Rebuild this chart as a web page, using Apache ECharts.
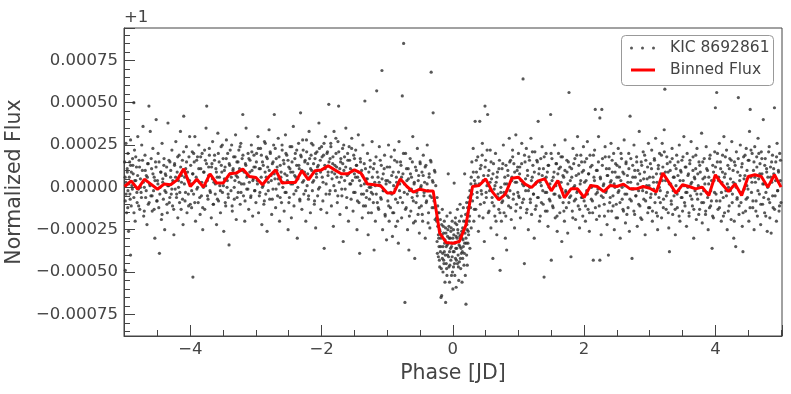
<!DOCTYPE html>
<html><head><meta charset="utf-8">
<script src="https://cdn.jsdelivr.net/npm/echarts@6/dist/echarts.min.js"></script>
<style>html,body{margin:0;padding:0;background:#fff}#c{width:791px;height:394px}</style>
</head><body><div id="c"></div>
<script>
// Binned flux (phase in days, flux-1 in units of 1e-6)
const binPhase = [-5.0,-4.9,-4.8,-4.7,-4.6,-4.5,-4.4,-4.3,-4.2,-4.1,-4.0,-3.9,-3.8,-3.7,-3.6,-3.5,-3.4,-3.3,-3.2,-3.1,-3.0,-2.9,-2.8,-2.7,-2.6,-2.5,-2.4,-2.3,-2.2,-2.1,-2.0,-1.9,-1.8,-1.7,-1.6,-1.5,-1.4,-1.3,-1.2,-1.1,-1.0,-0.9,-0.8,-0.7,-0.6,-0.5,-0.4,-0.3,-0.2,-0.1,0.0,0.1,0.2,0.3,0.4,0.5,0.6,0.7,0.8,0.9,1.0,1.1,1.2,1.3,1.4,1.5,1.6,1.7,1.8,1.9,2.0,2.1,2.2,2.3,2.4,2.5,2.6,2.7,2.8,2.9,3.0,3.1,3.2,3.3,3.4,3.5,3.6,3.7,3.8,3.9,4.0,4.1,4.2,4.3,4.4,4.5,4.6,4.7,4.8,4.9,5.0];
const binFlux = [5,38,-11,48,19,-11,19,15,44,109,5,48,1,80,25,25,80,84,108,64,58,15,64,103,25,28,28,98,44,98,103,127,103,80,80,103,84,19,15,9,-34,-34,50,5,-28,-11,-21,-21,-271,-326,-330,-320,-222,5,11,50,-25,-74,-40,54,60,19,-1,38,50,-21,40,-62,-9,-9,-60,11,5,-25,11,5,19,-9,-9,5,-5,-28,84,25,-34,15,5,-9,1,-48,74,19,-25,19,-48,64,74,64,1,74,1];

// KIC 8692861 points: [phase in 0.01 d, flux-1 in 1e-6] -- wide scatter
const kicPoints = [
[-500,150],[-499,-80],[-499,-490],[-498,260],[-498,30],[-497,-150],[-496,90],[-495,-20],[-495,200],[-494,-260],[-493,60],[-492,-40],[-491,130],[-491,280],[-490,-110],[-489,10],[-491,-400],[-488,170],[-487,80],[-486,-60],[-486,500],[-485,220],[-484,-200],[-483,40],[-482,120],[-481,-90],[-480,300],[-479,-10],[-478,160],[-477,-130],[-476,50],[-475,-30],[-474,250],[-472,360],[-473,100],[-471,-170],[-470,0],[-469,190],[-468,-60],[-467,70],[-466,-220],[-465,140],[-463,480],[-464,-100],[-462,20],[-461,330],[-460,-50],[-459,110],[-458,-140],[-457,230],[-456,-20],[-455,60],[-454,-300],[-453,150],[-452,400],[-451,-80],[-450,40],[-449,200],[-448,-120],[-447,-390],[-446,0],[-445,90],[-444,-190],[-443,260],[-442,30],[-441,-70],[-440,170],[-439,-250],[-438,80],[-437,-30],[-436,120],[-435,-150],[-434,380],[-433,10],[-432,-90],[-431,150],[-430,60],[-429,-40],[-428,220],[-427,-110],[-426,30],[-425,-280],[-424,130],[-423,-10],[-422,270],[-421,-60],[-420,90],[-419,-180],[-418,40],[-417,190],[-416,-30],[-415,330],[-414,-130],[-413,70],[-412,160],[-411,-220],[-410,420],[-409,20],[-408,-80],[-407,110],[-406,240],[-405,-150],[-404,50],[-403,-40],[-402,180],[-401,300],[-400,-100],
[-399,20],[-398,-120],[-397,210],[-396,-530],[-396,80],[-395,-40],[-394,150],[-393,300],[-392,-200],[-391,60],[-390,-10],[-389,180],[-388,-90],[-387,250],[-386,30],[-385,-160],[-384,110],[-383,-50],[-382,200],[-381,-250],[-380,0],[-379,90],[-378,-130],[-377,160],[-376,350],[-375,480],[-374,40],[-373,-70],[-372,120],[-371,230],[-370,-20],[-369,70],[-368,-180],[-367,140],[-366,270],[-365,-100],[-364,30],[-363,190],[-362,-40],[-361,110],[-360,-220],[-359,60],[-358,320],[-357,-80],[-356,150],[-355,10],[-354,-150],[-353,240],[-352,90],[-351,-30],[-350,170],[-349,-260],[-348,50],[-347,120],[-346,-110],[-345,280],[-344,0],[-343,200],[-342,-60],[-341,-340],[-340,130],[-339,80],[-338,-20],[-337,250],[-336,-140],[-335,100],[-334,180],[-333,-70],[-332,40],[-331,310],[-330,-190],[-329,150],[-328,60],[-327,-30],[-326,220],[-325,110],[-324,-100],[-323,260],[-322,20],[-321,170],[-320,430],[-319,-50],[-318,90],[-317,-200],[-316,140],[-315,350],[-314,-10],[-313,70],[-312,200],[-311,-130],[-310,30],[-309,160],[-308,-60],[-307,250],[-306,100],[-305,-170],[-304,50],[-303,190],[-302,-20],[-301,120],
[-300,-90],[-299,200],[-298,40],[-297,300],[-296,-150],[-295,110],[-294,-30],[-293,230],[-292,60],[-291,-220],[-290,150],[-289,10],[-288,-100],[-287,270],[-286,90],[-285,-40],[-284,180],[-283,-260],[-282,120],[-281,30],[-280,340],[-279,-70],[-278,200],[-277,70],[-276,-160],[-275,140],[-274,-10],[-273,250],[-272,430],[-271,50],[-270,-120],[-269,170],[-268,100],[-267,-50],[-266,290],[-265,20],[-264,-200],[-263,130],[-262,60],[-261,-90],[-260,220],[-259,0],[-258,160],[-257,-140],[-256,80],[-255,310],[-254,-30],[-253,190],[-252,40],[-251,-250],[-250,120],[-249,-60],[-248,240],[-247,90],[-246,-180],[-245,150],[-244,20],[-243,360],[-242,-110],[-241,70],[-240,200],[-239,-20],[-238,130],[-237,-300],[-236,50],[-235,260],[-234,110],[-233,-80],[-232,440],[-231,180],[-230,-130],[-229,30],[-228,220],[-227,-40],[-226,90],[-225,160],[-224,-200],[-223,280],[-222,10],[-221,140],[-220,-70],[-219,330],[-218,60],[-217,-150],[-216,190],[-215,100],[-214,-20],[-213,250],[-212,40],[-211,-100],[-210,170],[-209,-240],[-208,80],[-207,210],[-206,-50],[-205,130],[-204,380],[-203,0],[-202,160],[-201,-130],
[-200,240],[-199,60],[-198,-80],[-197,190],[-196,-360],[-195,130],[-194,300],[-193,20],[-192,-150],[-191,210],[-190,90],[-189,490],[-188,-40],[-187,170],[-186,260],[-185,-110],[-184,50],[-183,140],[-182,-230],[-181,330],[-180,80],[-179,-20],[-178,200],[-177,120],[-176,-90],[-175,270],[-174,480],[-173,30],[-172,-160],[-171,150],[-170,60],[-169,-50],[-168,230],[-167,-320],[-166,100],[-165,180],[-164,-10],[-163,350],[-162,-120],[-161,70],[-160,160],[-159,-200],[-158,240],[-157,20],[-156,110],[-155,-70],[-154,290],[-153,40],[-152,-140],[-151,190],[-150,80],[-149,-30],[-148,220],[-147,130],[-146,-250],[-145,60],[-144,310],[-143,-90],[-142,-390],[-141,170],[-140,10],[-139,100],[-138,-180],[-137,250],[-136,-40],[-135,140],[-134,510],[-133,-110],[-132,50],[-131,-20],[-130,200],[-129,-280],[-128,90],[-127,-70],[-126,160],[-125,0],[-124,-150],[-123,270],[-122,-40],[-121,110],[-120,-370],[-119,30],[-118,-200],[-117,180],[-116,570],[-115,-90],[-114,60],[-113,-130],[-112,240],[-111,10],[-110,-60],[-109,130],[-108,690],[-107,-250],[-106,80],[-105,-20],[-104,190],[-103,-170],[-102,40],[-101,-310],
[-100,120],[-99,-80],[-98,250],[-97,-200],[-96,30],[-95,-120],[-94,180],[-93,-40],[-92,-290],[-91,90],[-90,-150],[-89,220],[-88,-10],[-87,-230],[-86,60],[-85,150],[-84,-90],[-83,-330],[-82,270],[-81,20],[-80,-60],[-79,130],[-78,-180],[-77,540],[-76,80],[-75,850],[-74,-30],[-73,-680],[-72,200],[-71,-120],[-70,40],[-69,-250],[-68,110],[-67,-370],[-66,-20],[-65,170],[-64,-140],[-63,60],[-62,-60],[-61,300],[-60,-210],[-59,20],[-58,-420],[-57,120],[-56,-90],[-55,-30],[-54,230],[-53,-160],[-52,70],[-51,-270],[-50,150],[-49,0],[-48,-110],[-47,90],[-46,-200],[-45,190],[-44,-50],[-43,30],[-42,-300],[-41,130],[-40,-80],[-39,250],[-38,-20],[-37,-150],[-36,80],[-35,-240],[-34,160],[-33,680],[-32,-60],[-31,40],[-30,440],[-29,-120],[-28,100],[-27,-190],[-26,10],
[-25,-180],[-24,-60],[-24,-320],[-23,-230],[-23,-110],[-22,-410],[-22,-280],[-21,-150],[-21,-350],[-20,-250],[-20,-470],[-19,-190],[-19,-380],[-18,-650],[-18,-300],[-17,-640],[-17,-220],[-16,-420],[-16,-130],[-15,-350],[-15,-500],[-14,-270],[-14,-430],[-13,-200],[-13,-380],[-12,-560],[-12,-310],[-11,-680],[-11,-240],[-10,-450],[-10,-350],[-9,-170],[-9,-520],[-8,-290],[-8,-400],[-7,80],[-7,-330],[-6,-470],[-6,-230],[-5,-380],[-5,-560],[-4,-300],[-4,-150],[-3,-430],[-3,-260],[-2,-520],[-2,-350],[-1,-200],[-1,-410],[0,-600],[0,-300],[1,-470],[1,-250],[2,25],[2,-380],[3,-330],[3,-520],[4,-180],[4,-420],[5,-290],[5,-590],[6,-360],[6,-220],[7,-450],[7,-130],[8,-400],[8,-270],[9,-550],[9,-320],[10,-200],[10,-440],[11,-350],[11,-100],[12,-480],[12,-280],[13,-390],[13,-170],[14,-300],[14,-560],[15,-240],[15,-420],[16,-350],[16,-120],[17,-460],[17,-250],[18,80],[18,-330],[19,-520],[19,-200],[20,-690],[20,-300],[21,-400],[21,-90],[22,-250],[22,-460],[23,-150],[23,-330],[24,-60],[24,-280],[25,-200],[26,-20],[26,-360],[27,-120],[28,60],[28,-240],
[29,150],[30,-80],[31,230],[32,-200],[33,40],[34,390],[35,-130],[36,90],[37,-30],[38,180],[39,-260],[40,20],[41,390],[42,-100],[43,130],[44,-40],[45,260],[46,-180],[47,70],[48,-320],[49,480],[50,160],[51,-60],[52,10],[53,430],[54,-150],[55,100],[56,-20],[57,220],[58,-240],[59,50],[60,-90],[61,-420],[62,140],[63,-10],[64,-170],[65,200],[66,30],[67,-280],[68,90],[69,-60],[70,-130],[71,160],[72,-490],[73,-30],[74,-200],[75,110],[76,-80],[77,250],[78,-150],[79,20],[80,-300],[81,130],[82,-370],[83,-50],[84,70],[85,-110],[86,290],[87,-20],[88,160],[89,-190],[90,60],[91,220],[92,-70],[93,140],[94,-240],[95,30],[96,310],[97,-100],[98,100],[99,-30],
[100,200],[101,-60],[102,120],[103,-180],[104,40],[105,260],[106,-90],[107,640],[108,10],[109,-450],[110,150],[111,-20],[112,230],[113,-130],[114,70],[115,-250],[116,180],[117,0],[118,-70],[119,290],[120,-160],[121,60],[122,130],[123,-40],[124,-300],[125,210],[126,20],[127,-110],[128,160],[129,-60],[130,390],[131,80],[132,-200],[133,30],[134,170],[135,-90],[136,240],[137,-20],[138,110],[139,-530],[140,50],[141,-140],[142,200],[143,-30],[144,90],[145,-230],[146,130],[147,-70],[148,20],[149,430],[150,-430],[151,170],[152,-110],[153,60],[154,-40],[155,250],[156,-180],[157,10],[158,140],[159,-260],[160,80],[161,200],[162,-50],[163,-150],[164,120],[165,30],[166,-320],[167,180],[168,-90],[169,60],[170,-200],[171,280],[172,-20],[173,-120],[174,90],[175,-270],[176,150],[177,560],[178,-60],[179,40],[180,-410],[181,110],[182,-140],[183,230],[184,0],[185,-80],[186,170],[187,-190],[188,70],[189,-30],[190,300],[191,-110],[192,130],[193,-240],[194,20],[195,190],[196,-60],[197,90],[198,-170],[199,240],
[200,-80],[201,150],[202,-200],[203,40],[204,-20],[205,270],[206,-130],[207,80],[208,-260],[209,190],[210,10],[211,-70],[212,130],[213,-150],[214,-430],[215,60],[216,220],[217,460],[218,-40],[219,-190],[220,100],[221,-10],[222,300],[223,-110],[224,410],[224,-430],[225,50],[226,-280],[227,460],[228,170],[229,-60],[230,20],[231,-170],[232,240],[233,-30],[234,110],[235,-220],[236,70],[237,-400],[238,180],[239,-90],[240,30],[241,260],[242,-140],[243,90],[244,-50],[245,200],[246,-250],[247,0],[248,140],[249,-100],[250,60],[251,-180],[252,230],[253,-20],[254,120],[255,-300],[256,40],[257,170],[258,-70],[259,90],[260,-140],[261,280],[262,10],[263,-210],[264,150],[265,-40],[266,70],[267,-120],[268,200],[269,-260],[270,420],[271,30],[272,-80],[273,-420],[274,130],[275,-10],[276,250],[277,-160],[278,60],[279,-50],[280,180],[281,-230],[282,100],[283,-20],[284,330],[285,-110],[286,40],[287,150],[288,-190],[289,0],[290,210],[291,-70],[292,90],[293,-280],[294,160],[295,-30],[296,50],[297,-150],[298,260],[299,10],
[300,-120],[301,140],[302,-40],[303,220],[304,-200],[305,60],[306,-10],[307,170],[308,-90],[309,290],[310,-150],[311,30],[312,-250],[313,110],[314,-60],[315,200],[316,-20],[317,80],[318,-180],[319,260],[320,120],[321,-70],[322,340],[323,580],[324,40],[325,-130],[326,180],[327,-30],[328,90],[329,-240],[330,-380],[331,150],[332,20],[333,-100],[334,230],[335,-160],[336,60],[337,-50],[338,130],[339,-280],[340,10],[341,190],[342,-120],[343,70],[344,-20],[345,250],[346,-200],[347,100],[348,-60],[349,160],[350,-140],[351,40],[352,300],[353,-90],[354,120],[355,-30],[356,-230],[357,200],[358,0],[359,80],[360,-170],[361,140],[362,-50],[363,270],[364,30],[365,-110],[366,180],[367,-300],[368,60],[369,-20],[370,110],[371,-190],[372,230],[373,-70],[374,10],[375,150],[376,-130],[377,90],[378,-40],[379,320],[380,-210],[381,50],[382,-90],[383,170],[384,20],[385,-160],[386,240],[387,-30],[388,100],[389,-250],[390,60],[391,-120],[392,190],[393,-20],[394,-80],[395,-360],[396,130],[397,-180],[398,40],[399,210],
[400,470],[401,-40],[402,560],[403,150],[404,-130],[405,60],[406,260],[407,-80],[408,110],[409,-200],[410,30],[411,190],[412,-60],[413,300],[414,-150],[415,80],[416,-20],[417,220],[418,-250],[419,130],[420,0],[421,-110],[422,170],[423,50],[424,-190],[425,270],[426,-40],[427,100],[428,-300],[429,150],[430,20],[431,-350],[432,210],[433,-70],[434,90],[435,530],[436,-160],[437,40],[438,250],[439,-90],[440,120],[441,-230],[442,-380],[443,180],[444,-10],[445,70],[446,-140],[447,230],[448,10],[449,-60],[450,160],[451,-200],[452,330],[453,460],[454,60],[455,-30],[456,200],[457,-120],[458,100],[459,-250],[460,240],[461,30],[462,-80],[463,180],[464,-170],[465,290],[466,50],[467,-40],[468,140],[469,-220],[470,210],[471,80],[472,-100],[473,400],[474,20],[475,-150],[476,170],[477,-30],[478,110],[479,-260],[480,60],[481,-70],[482,240],[483,-180],[484,120],[485,-270],[486,30],[487,190],[488,-120],[489,80],[490,470],[491,-50],[492,150],[493,-200],[494,260],[495,-20],[496,100],[497,-140],[498,200],[499,40],[500,-90]
];

// KIC 8692861 points, dense core band: [phase in 0.01 d, flux-1 in 1e-6]
const kicPointsCore = [
[-499.2,60],[-497.8,-40],[-496.1,110],[-495.3,-120],[-493.7,20],[-492.4,150],[-491.6,-70],[-489.9,90],[-488.3,-10],[-487.5,130],[-485.8,-150],[-484.6,40],[-483.1,180],[-481.4,-30],[-480.2,70],[-478.7,-110],[-477.3,120],[-475.9,0],[-474.4,-60],[-472.8,160],[-471.5,30],[-470.1,-140],[-468.6,100],[-467.2,-20],[-465.4,60],[-464.1,140],[-462.7,-90],[-461.3,10],[-459.6,170],[-458.2,-50],[-456.9,80],[-455.1,-130],[-453.8,40],[-452.2,120],[-450.7,-80],[-449.3,20],[-447.6,150],[-446.4,-40],[-444.8,90],[-443.1,-160],[-441.9,50],[-440.3,130],[-438.7,-20],[-437.2,70],[-435.6,-100],[-434.3,10],[-432.5,160],[-431.2,-60],[-429.8,100],[-428.1,-10],[-426.7,40],[-425.3,-130],[-423.9,140],[-422.4,60],[-420.8,-40],[-419.2,180],[-417.9,0],[-416.3,-90],[-414.7,120],[-413.4,30],[-411.8,-70],[-410.2,210],[-408.6,60],[-407.3,-30],[-405.7,150],[-404.2,90],[-402.6,-110],[-401.1,40],
[-399.4,130],[-397.9,-20],[-396.5,80],[-394.8,200],[-393.2,-90],[-391.7,40],[-390.3,160],[-388.8,0],[-387.1,110],[-385.6,-60],[-384.2,180],[-382.5,30],[-381.1,-120],[-379.7,90],[-378.2,220],[-376.6,10],[-375.3,140],[-373.8,-50],[-372.2,70],[-370.9,190],[-369.3,-30],[-367.6,120],[-366.2,50],[-364.7,-100],[-363.1,160],[-361.8,20],[-360.2,90],[-358.7,-70],[-357.3,200],[-355.6,60],[-354.1,-20],[-352.7,130],[-351.2,250],[-349.6,10],[-348.1,100],[-346.7,-90],[-345.2,170],[-343.6,40],[-342.3,-40],[-340.7,140],[-339.2,220],[-337.6,60],[-336.3,-110],[-334.7,110],[-333.1,0],[-331.8,180],[-330.2,70],[-328.7,-60],[-327.3,150],[-325.6,30],[-324.2,240],[-322.7,-30],[-321.1,100],[-319.8,190],[-318.2,20],[-316.6,-80],[-315.3,130],[-313.8,60],[-312.2,-10],[-310.7,170],[-309.3,90],[-307.6,-50],[-306.2,210],[-304.7,40],[-303.1,120],[-301.6,-20],
[-299.3,150],[-297.7,20],[-296.4,230],[-294.8,-50],[-293.3,110],[-291.7,190],[-290.2,0],[-288.8,130],[-287.2,-80],[-285.7,260],[-284.3,60],[-282.6,170],[-281.2,-20],[-279.7,100],[-278.3,210],[-276.6,40],[-275.1,-70],[-273.8,150],[-272.2,80],[-270.6,230],[-269.3,-10],[-267.7,120],[-266.2,50],[-264.8,180],[-263.1,-60],[-261.6,90],[-260.2,250],[-258.8,30],[-257.2,140],[-255.6,-30],[-254.3,200],[-252.7,70],[-251.1,160],[-249.8,-90],[-248.2,110],[-246.7,20],[-245.3,240],[-243.6,90],[-242.2,-40],[-240.7,170],[-239.1,60],[-237.8,220],[-236.2,0],[-234.6,130],[-233.2,-70],[-231.7,190],[-230.1,100],[-228.8,280],[-227.2,40],[-225.6,150],[-224.3,-20],[-222.7,210],[-221.1,80],[-219.8,-50],[-218.2,170],[-216.7,110],[-215.2,260],[-213.6,30],[-212.2,140],[-210.7,-80],[-209.2,200],[-207.6,60],[-206.3,120],[-204.7,-10],[-203.2,230],[-201.6,90],
[-199.2,180],[-197.7,30],[-196.3,260],[-194.6,110],[-193.2,-40],[-191.8,200],[-190.2,70],[-188.7,150],[-187.1,-20],[-185.8,240],[-184.2,90],[-182.6,180],[-181.3,10],[-179.7,130],[-178.2,290],[-176.6,60],[-175.2,-50],[-173.8,210],[-172.2,110],[-170.6,170],[-169.3,-10],[-167.7,140],[-166.2,250],[-164.8,40],[-163.2,120],[-161.6,-60],[-160.3,200],[-158.7,80],[-157.2,160],[-155.6,20],[-154.2,230],[-152.7,100],[-151.1,-30],[-149.8,170],[-148.2,60],[-146.6,130],[-145.3,-80],[-143.7,90],[-142.2,40],[-140.6,150],[-139.2,-40],[-137.6,70],[-136.2,-110],[-134.7,20],[-133.1,110],[-131.8,-60],[-130.2,50],[-128.6,-150],[-127.3,0],[-125.7,120],[-124.2,-30],[-122.6,60],[-121.1,-90],[-119.8,140],[-118.2,10],[-116.6,-40],[-115.3,90],[-113.7,-120],[-112.2,30],[-110.6,160],[-109.1,-70],[-107.8,50],[-106.2,-20],[-104.6,110],[-103.2,-160],[-101.7,20],
[-99.3,40],[-97.7,-110],[-96.2,120],[-94.7,-30],[-93.2,70],[-91.6,-150],[-90.2,10],[-88.7,160],[-87.2,-70],[-85.6,30],[-84.2,-200],[-82.7,90],[-81.2,-20],[-79.7,150],[-78.2,60],[-76.6,-90],[-75.2,200],[-73.7,20],[-72.2,-130],[-70.6,110],[-69.2,-40],[-67.7,50],[-66.2,-170],[-64.6,80],[-63.2,-10],[-61.7,150],[-60.2,-80],[-58.7,30],[-57.2,-200],[-55.6,100],[-54.2,-50],[-52.7,40],[-51.2,-120],[-49.7,140],[-48.2,10],[-46.6,-160],[-45.2,70],[-43.7,-30],[-42.2,120],[-40.6,-90],[-39.2,20],[-37.7,-210],[-36.2,60],[-34.7,-50],[-33.2,150],[-31.6,-120],[-30.2,30],[-28.7,-80],[-27.2,90],
[-24.5,-200],[-23.5,-390],[-22.5,-150],[-21.5,-300],[-20.5,-430],[-19.5,-260],[-18.5,-350],[-17.5,-480],[-16.5,-280],[-15.5,-390],[-14.5,-230],[-13.5,-450],[-12.5,-330],[-11.5,-400],[-10.5,-270],[-9.5,-480],[-8.5,-340],[-7.5,-250],[-6.5,-410],[-5.5,-300],[-4.5,-460],[-3.5,-360],[-2.5,-240],[-1.5,-330],[-0.5,-500],[0.5,-380],[1.5,-280],[2.5,-450],[3.5,-210],[4.5,-360],[5.5,-430],[6.5,-300],[7.5,-250],[8.5,-470],[9.5,-340],[10.5,-290],[11.5,-420],[12.5,-360],[13.5,-260],[14.5,-380],[15.5,-310],[16.5,-200],[17.5,-390],[18.5,-270],[19.5,-160],[20.5,-330],[21.5,-220],[22.5,-120],[23.5,-260],[24.5,-90],[25.5,-170],[26.5,-50],[27.5,20],
[29.7,-40],[31.2,90],[32.7,-130],[34.2,20],[35.8,160],[37.2,-60],[38.7,60],[40.2,-170],[41.8,110],[43.2,-20],[44.7,190],[46.2,40],[47.8,-90],[49.2,120],[50.7,-30],[52.2,220],[53.8,70],[55.2,-140],[56.7,30],[58.2,150],[59.8,-60],[61.2,80],[62.7,-110],[64.2,10],[65.8,-200],[67.2,60],[68.7,-40],[70.2,110],[71.8,-150],[73.2,0],[74.7,-90],[76.2,140],[77.8,-30],[79.2,60],[80.7,-170],[82.2,20],[83.8,100],[85.2,-60],[86.7,150],[88.2,-120],[89.8,40],[91.2,180],[92.7,-40],[94.2,90],[95.8,-140],[97.2,30],[98.7,120],
[100.2,-50],[101.7,80],[103.2,-120],[104.8,140],[106.2,20],[107.7,-70],[109.2,190],[110.8,50],[112.2,-150],[113.7,100],[115.2,-20],[116.8,160],[118.2,-90],[119.7,40],[121.2,210],[122.8,-40],[124.2,90],[125.7,-130],[127.2,30],[128.8,150],[130.2,-60],[131.7,110],[133.2,-170],[134.8,10],[136.2,70],[137.7,-100],[139.2,180],[140.8,-30],[142.2,60],[143.7,-140],[145.2,130],[146.8,0],[148.2,-80],[149.7,200],[151.2,40],[152.8,-120],[154.2,90],[155.7,-40],[157.2,140],[158.8,-170],[160.2,30],[161.7,110],[163.2,-60],[164.8,180],[166.2,-10],[167.7,70],[169.2,-140],[170.8,100],[172.2,-30],[173.7,160],[175.2,20],[176.8,-90],[178.2,120],[179.7,-50],[181.2,60],[182.8,-180],[184.2,140],[185.7,10],[187.2,-70],[188.8,190],[190.2,-20],[191.7,80],[193.2,-130],[194.8,40],[196.2,150],[197.7,-60],[199.2,100],
[200.7,30],[202.2,-110],[203.8,170],[205.2,-40],[206.7,80],[208.2,-150],[209.8,120],[211.2,0],[212.7,-80],[214.2,190],[215.8,40],[217.2,-120],[218.7,100],[220.2,-30],[221.8,150],[223.2,-170],[224.7,60],[226.2,-50],[227.8,130],[229.2,10],[230.7,-100],[232.2,180],[233.8,-20],[235.2,70],[236.7,-140],[238.2,110],[239.8,-60],[241.2,40],[242.7,160],[244.2,-110],[245.8,20],[247.2,90],[248.7,-180],[250.2,130],[251.8,-30],[253.2,60],[254.7,-90],[256.2,200],[257.8,0],[259.2,-130],[260.7,80],[262.2,-40],[263.8,140],[265.2,-160],[266.7,30],[268.2,110],[269.8,-70],[271.2,170],[272.7,-10],[274.2,60],[275.8,-140],[277.2,100],[278.7,-50],[280.2,150],[281.8,20],[283.2,-100],[284.7,80],[286.2,-180],[287.8,130],[289.2,-20],[290.7,50],[292.2,190],[293.8,-80],[295.2,10],[296.7,120],[298.2,-120],[299.8,60],
[301.2,-60],[302.7,110],[304.2,-140],[305.8,30],[307.2,160],[308.7,-40],[310.2,80],[311.8,-170],[313.2,130],[314.7,0],[316.2,-90],[317.8,190],[319.2,40],[320.7,-120],[322.2,210],[323.8,90],[325.2,-50],[326.7,140],[328.2,-150],[329.8,20],[331.2,100],[332.7,-80],[334.2,170],[335.8,-20],[337.2,60],[338.7,-130],[340.2,110],[341.8,-40],[343.2,150],[344.7,-170],[346.2,40],[347.8,90],[349.2,-60],[350.7,180],[352.2,10],[353.8,-110],[355.2,120],[356.7,-30],[358.2,70],[359.8,-150],[361.2,160],[362.7,20],[364.2,-70],[365.8,100],[367.2,-130],[368.7,50],[370.2,190],[371.8,-40],[373.2,80],[374.7,-160],[376.2,130],[377.8,0],[379.2,-90],[380.7,150],[382.2,-20],[383.8,60],[385.2,-140],[386.7,110],[388.2,-60],[389.8,20],[391.2,170],[392.7,-110],[394.2,40],[395.8,-170],[397.2,90],[398.7,-30],
[400.2,120],[401.7,-80],[403.2,200],[404.8,40],[406.2,-120],[407.7,150],[409.2,-30],[410.8,90],[412.2,-170],[413.7,60],[415.2,180],[416.8,-50],[418.2,20],[419.7,-140],[421.2,110],[422.8,-20],[424.2,160],[425.7,-90],[427.2,30],[428.8,-200],[430.2,130],[431.7,0],[433.2,-60],[434.8,170],[436.2,-110],[437.7,70],[439.2,-30],[440.8,140],[442.2,-150],[443.7,50],[445.2,190],[446.8,-70],[448.2,100],[449.7,-10],[451.2,160],[452.8,-120],[454.2,220],[455.7,30],[457.2,-80],[458.8,150],[460.2,60],[461.7,-140],[463.2,120],[464.8,-20],[466.2,200],[467.7,80],[469.2,-100],[470.8,170],[472.2,20],[473.7,-60],[475.2,130],[476.8,-170],[478.2,90],[479.7,0],[481.2,210],[482.8,-90],[484.2,60],[485.7,150],[487.2,-50],[488.8,110],[490.2,-130],[491.7,40],[493.2,180],[494.8,-20],[496.2,90],[497.7,-110],[499.2,160]
];

const xTickStep = 2;
const yTickStep = 0.00025;

const scatterData = kicPoints.concat(kicPointsCore).map(p => [p[0] / 100, p[1] * 1e-6]);
const lineData = binPhase.map((x, i) => [x, binFlux[i] * 1e-6]);

const TXT = '#444';
const FONT = 'DejaVu Sans';
const minus = s => s.replace('-', '\u2212');

const chart = echarts.init(document.getElementById('c'), null, {renderer: 'canvas'});
chart.setOption({
  animation: false,
  backgroundColor: '#fff',
  textStyle: {fontFamily: FONT},
  grid: {left: 124, right: 9, top: 28, bottom: 58, containLabel: false, outerBoundsMode: 'none',
         show: true, borderColor: TXT, borderWidth: 1, backgroundColor: 'transparent'},
  xAxis: {
    type: 'value', min: -5.01, max: 5.015,
    minInterval: xTickStep, maxInterval: xTickStep, splitNumber: 5,
    axisLine: {show: true, onZero: false, lineStyle: {color: TXT, width: 1}},
    axisTick: {show: true, inside: true, length: 11, lineStyle: {color: TXT, width: 1}},
    minorTick: {show: true, splitNumber: 4, length: 6, lineStyle: {color: TXT, width: 1}},
    splitLine: {show: false},
    axisLabel: {color: TXT, fontSize: 16.5, fontFamily: FONT, margin: 5, showMinLabel: false, showMaxLabel: false,
      formatter: v => minus(String(Math.round(v)))},
    name: 'Phase [JD]', nameLocation: 'middle', nameGap: 25,
    nameTextStyle: {color: TXT, fontSize: 20.5, fontFamily: FONT}
  },
  yAxis: {
    type: 'value', min: -0.000878, max: 0.000941,
    minInterval: yTickStep, maxInterval: yTickStep, splitNumber: 7,
    axisLine: {show: true, onZero: false, lineStyle: {color: TXT, width: 1}},
    axisTick: {show: true, inside: true, length: 11, lineStyle: {color: TXT, width: 1}},
    minorTick: {show: true, splitNumber: 5, length: 6, lineStyle: {color: TXT, width: 1}},
    splitLine: {show: false},
    axisLabel: {color: TXT, fontSize: 16.5, fontFamily: FONT, margin: 6, showMinLabel: false, showMaxLabel: false,
      formatter: v => minus(v.toFixed(5))},
    name: 'Normalized Flux', nameLocation: 'middle', nameRotate: 90, nameGap: 94,
    nameTextStyle: {color: TXT, fontSize: 20.5, fontFamily: FONT}
  },
  legend: [
    {data: [{name: 'KIC 8692861', icon: 'path://M0,1.5a1.5,1.5 0 1,0 3,0a1.5,1.5 0 1,0 -3,0zM11,1.5a1.5,1.5 0 1,0 3,0a1.5,1.5 0 1,0 -3,0zM22,1.5a1.5,1.5 0 1,0 3,0a1.5,1.5 0 1,0 -3,0z'}],
     left: 630, top: 40, padding: 0, itemWidth: 25, itemHeight: 3,
     textStyle: {color: TXT, fontSize: 15.5, fontFamily: FONT, padding: [0, 0, 0, 10]}, selectedMode: false},
    {data: [{name: 'Binned Flux', icon: 'rect'}],
     left: 631, top: 62, padding: 0, itemWidth: 24, itemHeight: 3,
     textStyle: {color: TXT, fontSize: 15.5, fontFamily: FONT, padding: [0, 0, 0, 10]}, selectedMode: false}
  ],
  graphic: [
    {type: 'rect', left: 621, top: 35, z: -1, shape: {width: 152, height: 50, r: 4},
     style: {fill: '#fff', stroke: '#999', lineWidth: 1}},
    {type: 'text', left: 124, top: 9, style: {text: '+1', fill: TXT, font: '16.5px "DejaVu Sans"'}}
  ],
  series: [
    {name: 'KIC 8692861', type: 'scatter', data: scatterData, symbol: 'circle', symbolSize: 3.2,
     itemStyle: {color: '#2e2e2e'}, z: 2, silent: true},
    {name: 'Binned Flux', type: 'line', data: lineData, symbol: 'none', showSymbol: false,
     lineStyle: {color: '#ff0000', width: 3}, itemStyle: {color: '#ff0000'}, z: 3, silent: true}
  ]
});
</script></body></html>
